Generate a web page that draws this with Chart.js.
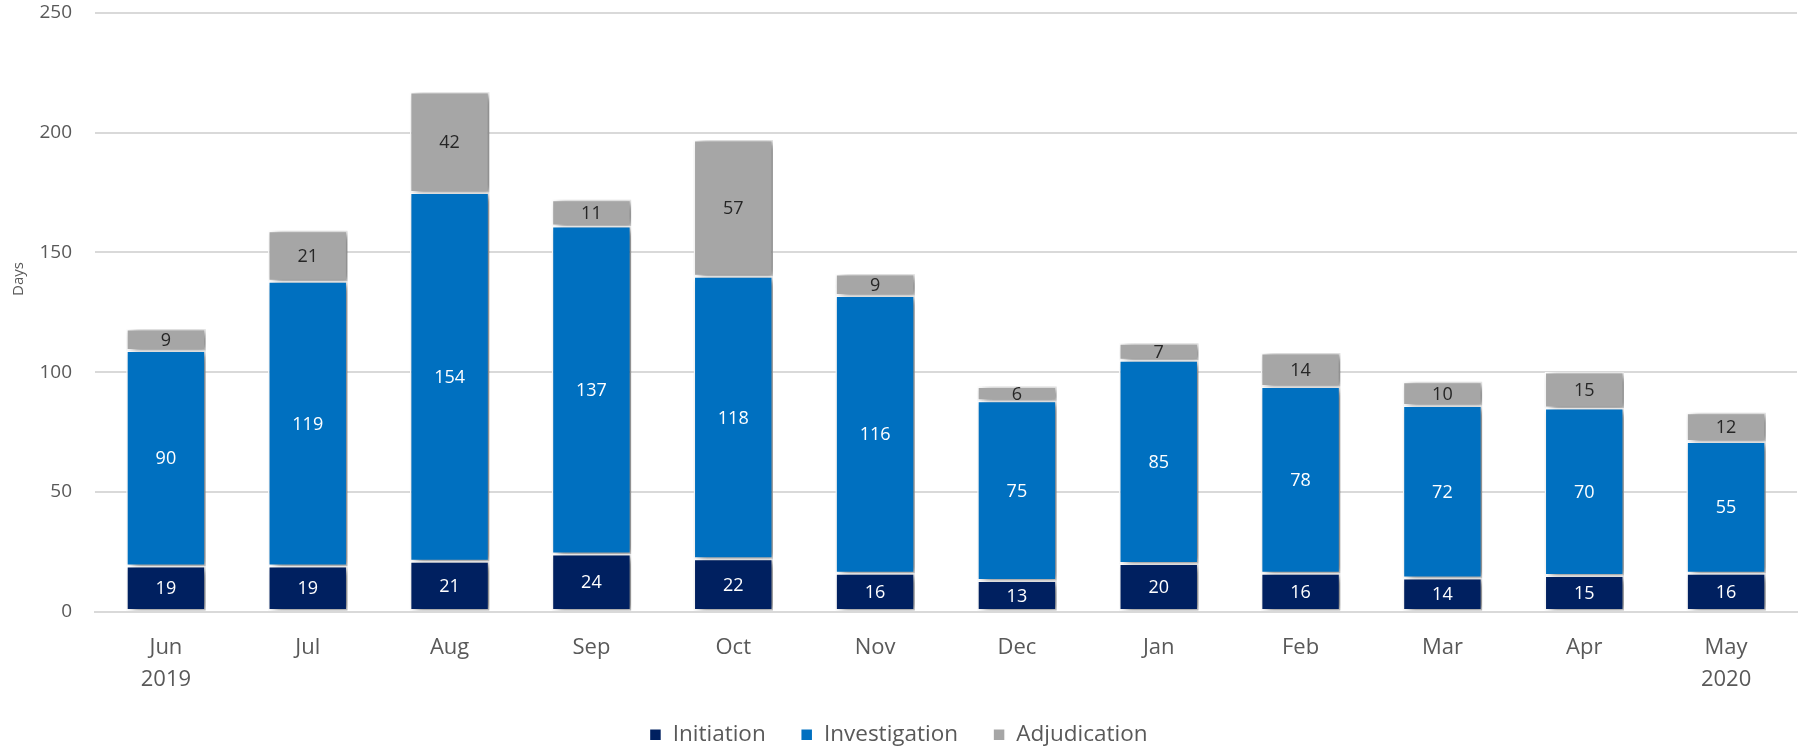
<!DOCTYPE html>
<html>
<head>
<meta charset="utf-8">
<script src="https://cdn.jsdelivr.net/npm/chart.js@4/dist/chart.umd.min.js"></script>
<style>
  html, body { margin: 0; padding: 0; background: #fff; }
  #wrap { width: 1801px; height: 751px; }
</style>
</head>
<body>
<div id="wrap"><canvas id="grafico" width="1801" height="751"></canvas></div>
<script>
const meses = [['Jun', '2019'], 'Jul', 'Aug', 'Sep', 'Oct', 'Nov', 'Dec', 'Jan', 'Feb', 'Mar', 'Apr', ['May', '2020']];
const iniciacion = [19, 19, 21, 24, 22, 16, 13, 20, 16, 14, 15, 16];
const investigacion = [90, 119, 154, 137, 118, 116, 75, 85, 78, 72, 70, 55];
const adjudicacion = [9, 21, 42, 11, 57, 9, 6, 7, 14, 10, 15, 12];
const ticksY = [0, 50, 100, 150, 200, 250];

const fuente = '"Open Sans", sans-serif';
const gris = '#595959';

// sombra a la derecha de cada barra
const sombra = {
    id: 'sombra',
    beforeDatasetDraw(chart) {
        const ctx = chart.ctx;
        ctx.save();
        ctx.shadowColor = 'rgba(0,0,0,0.5)';
        ctx.shadowBlur = 8;
        ctx.shadowOffsetX = 5;
        ctx.shadowOffsetY = 2;
    },
    afterDatasetDraw(chart) {
        chart.ctx.restore();
    }
};

// numeros dentro de cada segmento
const etiquetas = {
    id: 'etiquetas',
    afterDatasetsDraw(chart) {
        const ctx = chart.ctx;
        ctx.save();
        ctx.font = '18px ' + fuente;
        ctx.textAlign = 'center';
        ctx.textBaseline = 'middle';
        chart.data.datasets.forEach((ds, i) => {
            const meta = chart.getDatasetMeta(i);
            meta.data.forEach((bar, j) => {
                const y = (bar.y + bar.base) / 2;
                ctx.fillStyle = i == 2 ? '#262626' : '#ffffff';
                ctx.fillText(ds.data[j], bar.x, y + 1);
            });
        });
        ctx.restore();
    }
};

// titulo del eje y
const tituloY = {
    id: 'tituloY',
    afterDraw(chart) {
        const ctx = chart.ctx;
        ctx.save();
        ctx.translate(19, 279);
        ctx.rotate(-Math.PI / 2);
        ctx.font = '15px ' + fuente;
        ctx.fillStyle = gris;
        ctx.textAlign = 'center';
        ctx.textBaseline = 'middle';
        ctx.fillText('Days', 0, 0);
        ctx.restore();
    }
};

const barra = {
    borderColor: '#ffffff',
    borderWidth: 1.5,
    borderSkipped: false,
    categoryPercentage: 1,
    barPercentage: 0.56
};

new Chart(document.getElementById('grafico'), {
    type: 'bar',
    data: {
        labels: meses,
        datasets: [
            Object.assign({ label: 'Initiation', data: iniciacion, backgroundColor: '#002060' }, barra),
            Object.assign({ label: 'Investigation', data: investigacion, backgroundColor: '#0070C0' }, barra),
            Object.assign({ label: 'Adjudication', data: adjudicacion, backgroundColor: '#A6A6A6' }, barra)
        ]
    },
    options: {
        responsive: false,
        animation: false,
        layout: { padding: { top: 13, right: 4, left: 0, bottom: -5 } },
        plugins: {
            legend: {
                position: 'bottom',
                labels: {
                    boxWidth: 12,
                    boxHeight: 12,
                    padding: 35,
                    color: gris,
                    font: { family: fuente, size: 22.5 }
                }
            },
            tooltip: { enabled: false }
        },
        scales: {
            x: {
                stacked: true,
                grid: { display: false },
                border: { color: '#d9d9d9', width: 2 },
                ticks: {
                    color: gris,
                    padding: 12,
                    maxRotation: 0,
                    font: { family: fuente, size: 22, lineHeight: 1.45 }
                },
                afterFit: (s) => { s.height = 77; s.paddingLeft = 0; s.paddingRight = 0; }
            },
            y: {
                stacked: true,
                min: 0,
                max: 250,
                afterBuildTicks: (s) => { s.ticks = ticksY.map(v => ({ value: v })); },
                grid: { color: '#d9d9d9', lineWidth: 2, drawTicks: false },
                border: { display: false },
                ticks: {
                    color: gris,
                    padding: 23,
                    font: { family: fuente, size: 19 }
                },
                afterFit: (s) => { s.width = 95; s.paddingTop = 0; s.paddingBottom = 0; }
            }
        }
    },
    plugins: [sombra, etiquetas, tituloY]
});
</script>
</body>
</html>
